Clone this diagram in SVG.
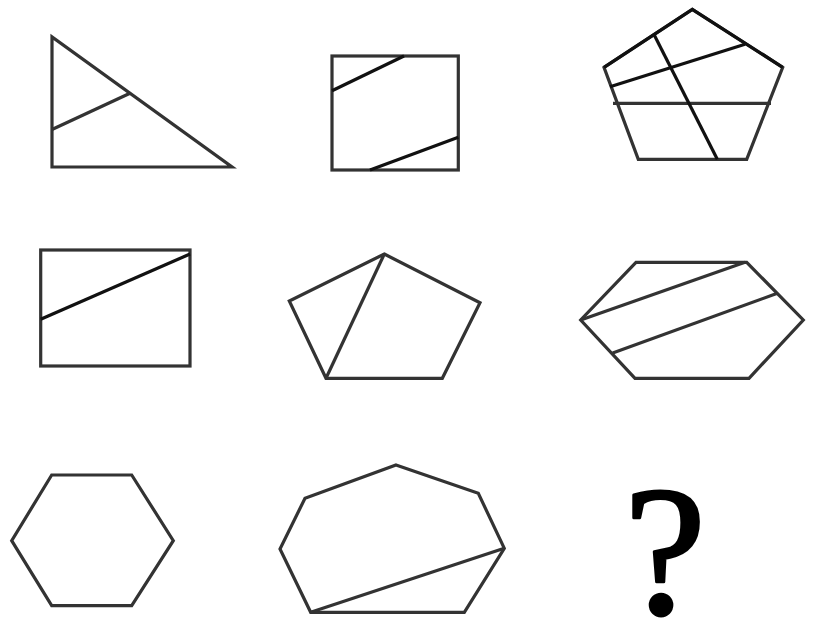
<svg xmlns="http://www.w3.org/2000/svg" width="821" height="641" viewBox="0 0 821 641">
<style>
.s{fill:none;stroke:#333;stroke-width:3.2;stroke-linejoin:miter;stroke-linecap:butt}
.k{stroke:#111}
.q{font-family:"Liberation Serif","Times New Roman",serif;font-size:184px;fill:#000;stroke:#000;stroke-width:3;stroke-linejoin:round}
</style>
<rect width="821" height="641" fill="#fff"/>
<g id="fig1">
<polygon class="s" points="52,37 52,167 232,167"/>
<line class="s" x1="52" y1="129.5" x2="130" y2="93.3"/>
</g>
<g id="fig2">
<rect class="s" x="332" y="56" width="126.3" height="114"/>
<line class="s k" x1="332" y1="90.7" x2="404" y2="56"/>
<line class="s k" x1="370" y1="170" x2="458.3" y2="137.3"/>
</g>
<g id="fig3">
<polygon class="s" points="692.3,9.3 782.7,67.3 746.7,159.3 638.3,159.3 604,67.3"/>
<polyline class="s k" points="604,67.3 692.3,9.3 782.7,67.3"/>
<line class="s" x1="613" y1="103.3" x2="771" y2="103.3"/>
<line class="s k" x1="610" y1="86.7" x2="745" y2="44.3"/>
<line class="s k" x1="654" y1="34.5" x2="717.3" y2="159.3"/>
</g>
<g id="fig4">
<rect class="s" x="40.7" y="250" width="149.3" height="116"/>
<line class="s k" x1="40.7" y1="319.3" x2="190" y2="254"/>
</g>
<g id="fig5">
<polygon class="s" points="384.3,254 480,302.7 442.3,378.3 326,378.3 289.3,301"/>
<line class="s" x1="384.3" y1="254" x2="326" y2="378.3"/>
</g>
<g id="fig6">
<polygon class="s" points="636,262.3 746.7,262.3 803.3,320 749,378.3 635,378.3 580.7,320"/>
<line class="s" x1="580.7" y1="320" x2="745" y2="262.3"/>
<line class="s" x1="612.7" y1="353" x2="776.7" y2="293.5"/>
</g>
<g id="fig7">
<polygon class="s" points="51.7,475 131.7,475 173.3,540.7 131.7,605.7 51.7,605.7 11.7,540.7"/>
</g>
<g id="fig8">
<polygon class="s" points="396,465 478.3,493.3 504.3,548.3 464.3,612.3 310.7,612.3 280,549 305,498.3"/>
<line class="s" x1="310.7" y1="612.3" x2="504.3" y2="548.3"/>
</g>
<g id="fig9">
<text class="q" x="665" y="613" text-anchor="middle">?</text>
</g>
</svg>
